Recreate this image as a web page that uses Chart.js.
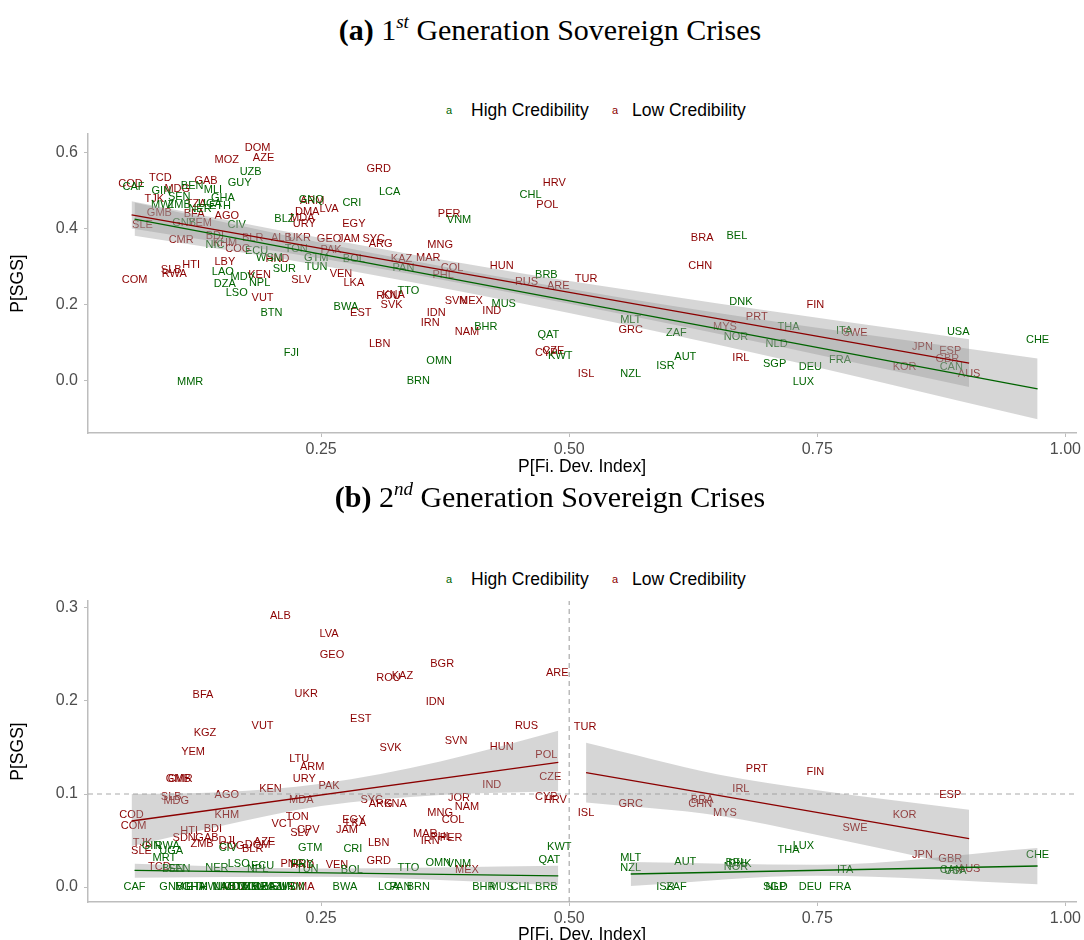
<!DOCTYPE html>
<html>
<head>
<meta charset="utf-8">
<script src="https://cdn.jsdelivr.net/npm/chart.js@4.4.0/dist/chart.umd.min.js"></script>
<style>
  body { margin: 0; width: 1084px; height: 940px; position: relative; overflow: hidden; background: #fff;
         font-family: "Liberation Sans", Arial, sans-serif; }
  .ttl { position: absolute; left: 0; width: 1100px; text-align: center; font-family: "Liberation Serif", serif;
         font-size: 30px; line-height: 34px; color: #000; }
  .ttl sup { font-size: 19px; font-style: italic; vertical-align: 12px; line-height: 0; }
  .key { position: absolute; font-size: 11px; line-height: 16px; }
  .lab { position: absolute; font-size: 17.5px; line-height: 20px; color: #000; }
  canvas { position: absolute; left: 0; }
</style>
</head>
<body>
<div class="ttl" style="top:13px"><b>(a)</b> 1<sup>st</sup> Generation Sovereign Crises</div>
<span class="key" style="left:446px;top:102px;color:#006400">a</span><span class="lab" style="left:471px;top:100px">High Credibility</span>
<span class="key" style="left:612px;top:102px;color:#8b0000">a</span><span class="lab" style="left:632px;top:100px">Low Credibility</span>
<canvas id="panelA" width="1084" height="390" style="top:91px"></canvas>

<div class="ttl" style="top:480px"><b>(b)</b> 2<sup>nd</sup> Generation Sovereign Crises</div>
<span class="key" style="left:446px;top:571px;color:#006400">a</span><span class="lab" style="left:471px;top:569px">High Credibility</span>
<span class="key" style="left:612px;top:571px;color:#8b0000">a</span><span class="lab" style="left:632px;top:569px">Low Credibility</span>
<canvas id="panelB" width="1084" height="388" style="top:561px"></canvas>

<script>
// ---- axis ticks ----
const xTickVals = [0.25, 0.5, 0.75, 1.0];
const xTickLabels = ["0.25", "0.50", "0.75", "1.00"];
const aYTickVals = [0.0, 0.2, 0.4, 0.6];
const aYTickLabels = ["0.0", "0.2", "0.4", "0.6"];
const bYTickVals = [0.0, 0.1, 0.2, 0.3];
const bYTickLabels = ["0.0", "0.1", "0.2", "0.3"];

// ---- panel (a): 1st generation ----
const aHighCodes = ["UZB","CAF","GUY","GIN","BEN","MLI","SEN","GHA","MWI","ZMB","UGA","ETH","NER","GNB","CIV","NIC","ECU","LAO","DZA","MDV","NPL","LSO","WSM","SUR","GTM","TUN","TON","BTN","FJI","MMR","BLZ","GNQ","CRI","BOL","LCA","VNM","PAN","TTO","BWA","MUS","BHR","OMN","BRN","QAT","KWT","CHL","BRB","BEL","DNK","MLT","ZAF","NOR","THA","ITA","NLD","USA","CHE","CAN","AUT","SGP","DEU","FRA","ISR","NZL","LUX"];
const aHighFin = [0.179,0.061,0.168,0.089,0.120,0.141,0.107,0.151,0.090,0.107,0.138,0.148,0.128,0.112,0.165,0.143,0.185,0.151,0.153,0.171,0.188,0.165,0.198,0.213,0.245,0.245,0.225,0.200,0.220,0.118,0.213,0.240,0.281,0.283,0.319,0.389,0.333,0.338,0.275,0.434,0.416,0.369,0.348,0.479,0.491,0.461,0.477,0.669,0.673,0.562,0.608,0.668,0.721,0.777,0.709,0.892,0.972,0.885,0.617,0.707,0.743,0.773,0.597,0.562,0.736];
const aHighSgs = [0.550,0.511,0.521,0.500,0.513,0.503,0.484,0.482,0.463,0.463,0.466,0.461,0.453,0.416,0.411,0.358,0.342,0.287,0.255,0.274,0.258,0.232,0.324,0.295,0.324,0.300,0.347,0.179,0.074,-0.003,0.426,0.476,0.468,0.321,0.497,0.424,0.297,0.237,0.195,0.203,0.142,0.053,0.000,0.121,0.066,0.489,0.279,0.382,0.208,0.161,0.126,0.116,0.142,0.132,0.097,0.129,0.108,0.037,0.063,0.045,0.037,0.055,0.039,0.018,-0.003];

const aLowCodes = ["DOM","AZE","MOZ","TCD","COD","GAB","MDG","TJK","TZA","BFA","YEM","AGO","GMB","SLE","CMR","BDI","BLR","ALB","UKR","COG","KHM","LBY","HTI","SLB","RWA","COM","KEN","HND","SLV","VUT","ARM","LVA","DMA","MDA","URY","EGY","GEO","JAM","PAK","VEN","LKA","GRD","HRV","POL","PER","SYC","ARG","MNG","MAR","KAZ","COL","PHL","HUN","RUS","ARE","TUR","ROU","KNA","SVK","EST","SVN","MEX","IND","IDN","IRN","NAM","LBN","CZE","CYP","BRA","CHN","FIN","PRT","GRC","MYS","SWE","JPN","ESP","GBR","AUS","KOR","IRL","ISL"];
const aLowFin = [0.186,0.192,0.155,0.088,0.058,0.134,0.105,0.082,0.124,0.122,0.128,0.155,0.087,0.070,0.109,0.143,0.181,0.210,0.228,0.166,0.153,0.153,0.119,0.099,0.102,0.062,0.188,0.206,0.230,0.191,0.241,0.258,0.236,0.231,0.233,0.283,0.258,0.278,0.260,0.270,0.283,0.308,0.485,0.478,0.379,0.303,0.310,0.370,0.358,0.331,0.382,0.373,0.432,0.457,0.489,0.517,0.318,0.323,0.321,0.290,0.386,0.401,0.422,0.366,0.360,0.397,0.309,0.484,0.477,0.634,0.632,0.748,0.689,0.562,0.657,0.788,0.856,0.884,0.881,0.903,0.838,0.673,0.517];
const aLowSgs = [0.613,0.587,0.582,0.534,0.518,0.526,0.505,0.479,0.466,0.439,0.416,0.434,0.442,0.411,0.371,0.382,0.376,0.376,0.376,0.347,0.363,0.313,0.305,0.292,0.282,0.266,0.279,0.321,0.266,0.218,0.474,0.453,0.445,0.429,0.413,0.413,0.374,0.374,0.345,0.282,0.258,0.558,0.521,0.463,0.439,0.374,0.361,0.358,0.324,0.321,0.297,0.279,0.303,0.261,0.250,0.268,0.224,0.226,0.200,0.179,0.211,0.211,0.184,0.179,0.153,0.129,0.097,0.079,0.074,0.376,0.303,0.200,0.168,0.134,0.142,0.126,0.089,0.079,0.058,0.018,0.037,0.061,0.018];

// linear fits with confidence bands
const aLowFitX = [0.059, 0.903];
const aLowFitY = [0.437, 0.047];
const aLowBandX = [0.059, 0.25, 0.45, 0.65, 0.903];
const aLowBandUp = [0.473, 0.376, 0.284, 0.204, 0.110];
const aLowBandLo = [0.401, 0.322, 0.228, 0.124, -0.016];
const aHighFitX = [0.062, 0.972];
const aHighFitY = [0.426, -0.021];
const aHighBandX = [0.062, 0.25, 0.45, 0.65, 0.972];
const aHighBandUp = [0.470, 0.364, 0.265, 0.179, 0.059];
const aHighBandLo = [0.382, 0.304, 0.205, 0.095, -0.101];

// ---- panel (b): 2nd generation ----
const bHighCodes = ["CRI","BOL","TTO","OMN","VNM","KWT","QAT","BWA","LCA","PAN","BRN","BHR","MUS","CHL","BRB","GTM","GIN","RWA","MRT","UGA","CIV","BEN","SEN","NER","LSO","ECU","NPL","TUN","PRY","CAF","GNB","MLI","GHA","ETH","MWI","NIC","LAO","MDV","BTN","UZB","MMR","GUY","DZA","BLZ","FJI","SUR","WSM","MLT","NZL","AUT","BEL","DNK","NOR","THA","LUX","ITA","CHE","CAN","USA","ISR","ZAF","SGP","NLD","DEU","FRA"];
const bHighFin = [0.282,0.281,0.338,0.368,0.389,0.490,0.480,0.274,0.318,0.330,0.348,0.414,0.432,0.452,0.477,0.239,0.079,0.095,0.092,0.099,0.156,0.101,0.107,0.145,0.167,0.191,0.186,0.236,0.231,0.062,0.099,0.112,0.122,0.125,0.138,0.150,0.153,0.163,0.168,0.176,0.183,0.188,0.193,0.200,0.206,0.212,0.220,0.562,0.562,0.617,0.668,0.672,0.668,0.721,0.736,0.778,0.972,0.885,0.889,0.597,0.608,0.707,0.709,0.743,0.773];
const bHighSgs = [0.041,0.018,0.020,0.026,0.025,0.043,0.029,0,0,0,0,0,0,0,0,0.042,0.044,0.044,0.031,0.039,0.042,0.019,0.019,0.020,0.025,0.023,0.019,0.019,0.025,0,0,0,0,0,0,0,0,0,0,0,0,0,0,0,0,0,0,0.031,0.020,0.027,0.026,0.025,0.022,0.040,0.044,0.018,0.035,0.018,0.017,0,0,0,0,0,0];

const bLowCodes = ["ALB","LVA","GEO","BFA","UKR","VUT","KGZ","YEM","LTU","BGR","ROU","KAZ","IDN","ARE","EST","RUS","TUR","SVK","SVN","HUN","POL","CZE","IND","JOR","CYP","HRV","SYC","ARG","KNA","NAM","MNG","COL","EGY","LKA","JAM","CPV","LBN","MAR","PHL","IRN","PER","GRD","VEN","MEX","ISL","GMB","CMR","SLB","MDG","AGO","KEN","ARM","URY","PAK","MDA","COD","COM","KHM","TON","VCT","SLV","HTI","BDI","SDN","GAB","DJI","AZE","DOM","BLR","ZMB","TJK","SLE","TCD","COG","PNG","HND","DMA","MOZ","GRC","BRA","CHN","MYS","IRL","PRT","FIN","ESP","KOR","SWE","JPN","GBR","AUS"];
const bLowFin = [0.209,0.258,0.261,0.131,0.235,0.191,0.133,0.121,0.228,0.372,0.318,0.332,0.365,0.488,0.290,0.457,0.516,0.320,0.386,0.432,0.477,0.481,0.422,0.389,0.477,0.486,0.301,0.310,0.325,0.397,0.370,0.383,0.283,0.285,0.276,0.237,0.308,0.355,0.371,0.360,0.381,0.308,0.266,0.397,0.517,0.106,0.108,0.099,0.104,0.155,0.199,0.241,0.233,0.258,0.230,0.059,0.061,0.155,0.226,0.211,0.229,0.117,0.141,0.112,0.135,0.155,0.193,0.186,0.181,0.130,0.070,0.069,0.087,0.160,0.221,0.231,0.231,0.163,0.562,0.634,0.632,0.657,0.673,0.689,0.748,0.884,0.838,0.788,0.856,0.884,0.903];
const bLowSgs = [0.291,0.272,0.249,0.206,0.208,0.173,0.166,0.145,0.138,0.240,0.225,0.227,0.199,0.230,0.181,0.173,0.172,0.149,0.157,0.151,0.142,0.118,0.110,0.096,0.097,0.094,0.094,0.089,0.089,0.086,0.080,0.072,0.072,0.069,0.061,0.061,0.047,0.057,0.054,0.049,0.053,0.028,0.024,0.018,0.080,0.116,0.116,0.097,0.092,0.099,0.105,0.129,0.116,0.109,0.094,0.078,0.066,0.078,0.075,0.068,0.058,0.060,0.062,0.053,0.053,0.049,0.048,0.045,0.041,0.046,0.047,0.039,0.022,0.044,0.025,0.024,0.000,0.000,0.089,0.094,0.089,0.080,0.105,0.127,0.124,0.099,0.077,0.063,0.034,0.030,0.019];

// fits split at the 0.5 threshold
const bLowLFitX = [0.059, 0.489];
const bLowLFitY = [0.071, 0.134];
const bLowLBandX = [0.059, 0.15, 0.25, 0.37, 0.489];
const bLowLBandUp = [0.100, 0.102, 0.111, 0.135, 0.168];
const bLowLBandLo = [0.044, 0.066, 0.087, 0.099, 0.103];
const bHighLFitX = [0.062, 0.489];
const bHighLFitY = [0.018, 0.012];
const bHighLBandX = [0.062, 0.25, 0.489];
const bHighLBandUp = [0.025, 0.020, 0.023];
const bHighLBandLo = [0.010, 0.011, 0.002];
const bLowRFitX = [0.517, 0.903];
const bLowRFitY = [0.123, 0.052];
const bLowRBandX = [0.517, 0.65, 0.75, 0.903];
const bLowRBandUp = [0.155, 0.121, 0.104, 0.083];
const bLowRBandLo = [0.091, 0.077, 0.056, 0.021];
const bHighRFitX = [0.562, 0.972];
const bHighRFitY = [0.014, 0.0226];
const bHighRBandX = [0.562, 0.75, 0.972];
const bHighRBandUp = [0.027, 0.024, 0.042];
const bHighRBandLo = [0.001, 0.012, 0.003];
const bCutX = 0.5;
const bRefY = 0.1;

const GREEN = "#006400";
const RED = "#8b0000";
const BAND = "rgba(153,153,153,0.4)";
const AXIS = "#bdbdbd";

function pts(xs, ys) { return xs.map((x, i) => ({ x: x, y: ys[i] })); }

// country codes are drawn as text at the points, under the ribbons
const codeText = {
  id: "codeText",
  beforeDatasetsDraw(chart) {
    const ctx = chart.ctx;
    ctx.save();
    ctx.font = '11px "Liberation Sans", Arial, sans-serif';
    ctx.textAlign = "center";
    ctx.textBaseline = "middle";
    chart.data.datasets.forEach((ds, i) => {
      if (!ds.codes) return;
      ctx.fillStyle = ds.textColor;
      chart.getDatasetMeta(i).data.forEach((p, j) => ctx.fillText(ds.codes[j], p.x, p.y));
    });
    ctx.restore();
  }
};

function buildChart(id, o) {
  const datasets = [];
  o.fits.forEach(f => datasets.push({
    type: "line", data: pts(f.x, f.y), borderColor: f.color, borderWidth: 1.3,
    pointRadius: 0, fill: false, order: 0
  }));
  o.bands.forEach(b => {
    datasets.push({ type: "line", data: pts(b.x, b.lo), borderColor: "rgba(0,0,0,0)", borderWidth: 0,
      pointRadius: 0, fill: false, order: 1, cubicInterpolationMode: "monotone" });
    datasets.push({ type: "line", data: pts(b.x, b.up), borderColor: "rgba(0,0,0,0)", borderWidth: 0,
      pointRadius: 0, fill: "-1", backgroundColor: BAND, order: 1, cubicInterpolationMode: "monotone" });
  });
  (o.dashes || []).forEach(d => datasets.push({
    type: "line", data: d, borderColor: "#aaaaaa", borderWidth: 1.2, borderDash: [5, 4],
    pointRadius: 0, fill: false, order: 2
  }));
  o.groups.forEach(g => datasets.push({
    type: "scatter", data: pts(g.x, g.y), codes: g.codes, textColor: g.color,
    pointRadius: 0, showLine: false, order: 3
  }));

  return new Chart(document.getElementById(id), {
    type: "scatter",
    data: { datasets: datasets },
    plugins: [codeText],
    options: {
      responsive: false,
      animation: false,
      devicePixelRatio: 1,
      layout: { padding: { top: o.top, right: 4, left: 0, bottom: 0 } },
      plugins: { legend: { display: false }, tooltip: { enabled: false } },
      scales: {
        x: {
          type: "linear", min: 0.0151, max: 1.011,
          afterBuildTicks: s => { s.ticks = xTickVals.map(v => ({ value: v })); },
          afterFit: s => { s.height = o.xAxisH; },
          ticks: { callback: (v, i) => xTickLabels[i], color: "#4d4d4d", font: { size: 16 },
                   padding: 3, maxRotation: 0, autoSkip: false },
          grid: { drawOnChartArea: false, tickLength: 4, color: AXIS },
          border: { color: AXIS, width: 1.5 },
          title: { display: true, text: "P[Fi. Dev. Index]", color: "#000", font: { size: 17.5 },
                   padding: { top: 0, bottom: 3.5 } }
        },
        y: {
          type: "linear", min: o.yMin, max: o.yMax,
          afterBuildTicks: s => { s.ticks = o.yTicks.map(v => ({ value: v })); },
          afterFit: s => { s.width = 88; },
          ticks: { callback: (v, i) => o.yLabels[i], color: "#4d4d4d", font: { size: 16 }, padding: 6 },
          grid: { drawOnChartArea: false, tickLength: 4, color: AXIS },
          border: { color: AXIS, width: 1.5 },
          title: { display: true, text: "P[SGS]", color: "#000", font: { size: 17.5 },
                   padding: { top: 8, bottom: 0 } }
        }
      }
    }
  });
}

buildChart("panelA", {
  top: 43, xAxisH: 48, yMin: -0.137, yMax: 0.65, yTicks: aYTickVals, yLabels: aYTickLabels,
  fits: [
    { x: aLowFitX, y: aLowFitY, color: RED },
    { x: aHighFitX, y: aHighFitY, color: GREEN }
  ],
  bands: [
    { x: aLowBandX, up: aLowBandUp, lo: aLowBandLo },
    { x: aHighBandX, up: aHighBandUp, lo: aHighBandLo }
  ],
  groups: [
    { codes: aLowCodes, x: aLowFin, y: aLowSgs, color: RED },
    { codes: aHighCodes, x: aHighFin, y: aHighSgs, color: GREEN }
  ]
});

buildChart("panelB", {
  top: 40, xAxisH: 47, yMin: -0.0161, yMax: 0.3075, yTicks: bYTickVals, yLabels: bYTickLabels,
  fits: [
    { x: bLowLFitX, y: bLowLFitY, color: RED },
    { x: bHighLFitX, y: bHighLFitY, color: GREEN },
    { x: bLowRFitX, y: bLowRFitY, color: RED },
    { x: bHighRFitX, y: bHighRFitY, color: GREEN }
  ],
  bands: [
    { x: bLowLBandX, up: bLowLBandUp, lo: bLowLBandLo },
    { x: bHighLBandX, up: bHighLBandUp, lo: bHighLBandLo },
    { x: bLowRBandX, up: bLowRBandUp, lo: bLowRBandLo },
    { x: bHighRBandX, up: bHighRBandUp, lo: bHighRBandLo }
  ],
  dashes: [
    [{ x: bCutX, y: -0.0161 }, { x: bCutX, y: 0.3075 }],
    [{ x: 0.0151, y: bRefY }, { x: 1.011, y: bRefY }]
  ],
  groups: [
    { codes: bLowCodes, x: bLowFin, y: bLowSgs, color: RED },
    { codes: bHighCodes, x: bHighFin, y: bHighSgs, color: GREEN }
  ]
});
</script>
</body>
</html>
